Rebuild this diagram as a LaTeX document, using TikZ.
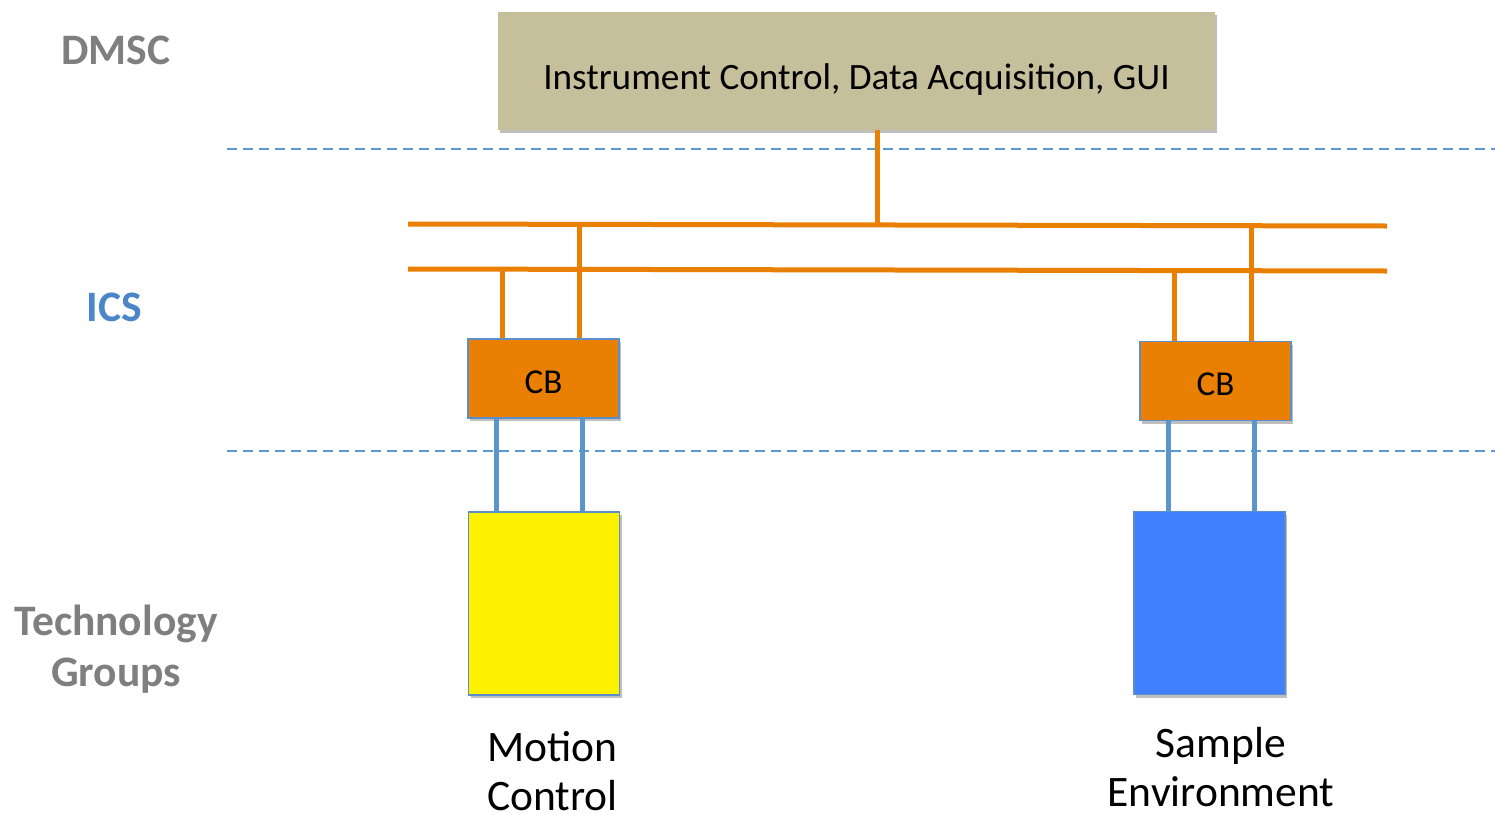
\documentclass[tikz,border=0pt]{standalone}
\usepackage{fontspec}
\setmainfont{Carlito}
\usetikzlibrary{shadows}
\definecolor{topfill}{HTML}{C5BF9B}
\definecolor{busorange}{HTML}{E98004}
\definecolor{cbfill}{HTML}{E97F03}
\definecolor{edgeblue}{HTML}{5B8FC9}
\definecolor{linkblue}{HTML}{5A96CB}
\definecolor{dashblue}{HTML}{5B9BD5}
\definecolor{seblue}{HTML}{4080FE}
\definecolor{labelgray}{HTML}{7F7F7F}
\definecolor{icsblue}{HTML}{4A86C8}
\tikzset{
  softshadow/.style={drop shadow={shadow xshift=2pt, shadow yshift=-3pt, opacity=0.25, fill=black}},
  topbox/.style={draw=none, fill=topfill, minimum width=717pt, minimum height=118pt, inner sep=0pt, softshadow, font=\fontsize{37.2}{44}\selectfont, text height=36pt, text depth=0pt},
  cbbox/.style={draw=edgeblue, line width=1.5pt, fill=cbfill, minimum width=151pt, minimum height=79pt, inner sep=0pt, softshadow, font=\fontsize{35}{42}\selectfont, text height=29pt, text depth=0pt},
  groupbox/.style={draw=edgeblue, line width=1.5pt, minimum width=151pt, minimum height=183pt, inner sep=0pt, softshadow},
  layerlabel/.style={font=\bfseries\fontsize{43.5}{51}\selectfont, text=labelgray, align=center, inner sep=0pt},
  grouplabel/.style={font=\fontsize{43.5}{49}\selectfont, align=center, inner sep=0pt, text depth=0pt, anchor=south},
  bus/.style={draw=busorange, line width=5pt},
  link/.style={draw=linkblue, line width=5pt},
  divider/.style={draw=dashblue, line width=1.3pt, dash pattern=on 10pt off 6pt}
}
\begin{document}
\begin{tikzpicture}[x=1pt, y=-1pt]
\useasboundingbox (0,0) rectangle (1495,814);

% layer dividers
\coordinate (d1l) at (227,149);
\coordinate (d1r) at (1495,149);
\coordinate (d2l) at (227,451);
\coordinate (d2r) at (1495,451);
\draw[divider] (d1l) -- (d1r);
\draw[divider] (d2l) -- (d2r);

% layer labels
\node[layerlabel] (dmsc) at (116,50) {DMSC};
\node[layerlabel, text=icsblue] (ics) at (114,307) {ICS};
\node[layerlabel] (tg) at (116,649) {Technology\\Groups};

% top box
\node[topbox] (top) at (856.5,71) {Instrument Control, Data Acquisition, GUI};

% buses
\coordinate (b1l) at (408,224);
\coordinate (b1r) at (1387,226);
\coordinate (b2l) at (408,269);
\coordinate (b2r) at (1387,271);
\draw[bus] (b1l) -- (b1r);
\draw[bus] (b2l) -- (b2r);

% CB boxes
\node[cbbox] (cbl) at (543.5,378.5) {CB};
\node[cbbox] (cbr) at (1215.5,381) {CB};

% technology group boxes
\node[groupbox, fill=yellow] (mc) at (544,603.5) {};
\node[groupbox, fill=seblue] (se) at (1209.5,603) {};

\node[grouplabel] (mclabel) at (552.5,811) {Motion\\Control};
\node[grouplabel] (selabel) at (1221,807) {Sample\\Environment};

% junctions on buses
\coordinate (j0) at (877,225.5);
\coordinate (jl1) at (579,225);
\coordinate (jl2) at (502,269.5);
\coordinate (jr1) at (1251,226);
\coordinate (jr2) at (1174,273);

% orange vertical connectors
\draw[bus] (top.south -| j0) -- (j0);
\draw[bus] (jl1) -- (cbl.north -| jl1);
\draw[bus] (jl2) -- (cbl.north -| jl2);
\draw[bus] (jr1) -- (cbr.north -| jr1);
\draw[bus] (jr2) -- (cbr.north -| jr2);

% blue links
\coordinate (ll1) at (496,0);
\coordinate (ll2) at (582,0);
\coordinate (lr1) at (1168,0);
\coordinate (lr2) at (1254,0);
\draw[link] (cbl.south -| ll1) -- (mc.north -| ll1);
\draw[link] (cbl.south -| ll2) -- (mc.north -| ll2);
\draw[link] (cbr.south -| lr1) -- (se.north -| lr1);
\draw[link] (cbr.south -| lr2) -- (se.north -| lr2);
\end{tikzpicture}
\end{document}
